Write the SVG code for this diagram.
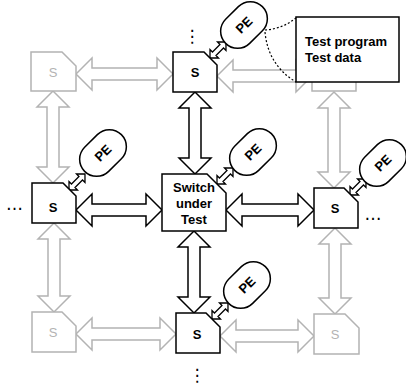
<svg xmlns="http://www.w3.org/2000/svg" width="406" height="388" viewBox="0 0 406 388">
<style>
text{font-family:"Liberation Sans",Arial,sans-serif;font-size:13px;font-weight:bold;fill:#000}
.g{fill:#fff;stroke:#b3b3b3;stroke-width:1.5}
.b{fill:#fff;stroke:#000;stroke-width:1.5}
.gt{fill:#b3b3b3;font-weight:normal}
.pe{fill:#fff;stroke:#000;stroke-width:1.5}
.sa{fill:#fff;stroke:#000;stroke-width:1.3}
.dot{fill:none;stroke:#000;stroke-width:1.2;stroke-dasharray:2,2}
.el{font-family:"DejaVu Sans",sans-serif;font-weight:normal;font-size:17px}
</style>
<defs>
<path id="sarrow" d="M0,0 L6,-6 L6,-2.5 L16.6,-2.5 L16.6,-6 L22.6,0 L16.6,6 L16.6,2.5 L6,2.5 L6,6 Z"/>
</defs>
<rect width="406" height="388" fill="#fff"/>
<g id="connectors">
<path class="g" d="M76,74 L92,58 L92,68 L157,68 L157,58 L173,74 L157,90 L157,80 L92,80 L92,90 Z"/>
<path class="g" d="M217,76 L233,60 L233,70 L296,70 L296,60 L312,76 L296,92 L296,82 L233,82 L233,92 Z"/>
<path class="b" d="M76,210 L92,194 L92,204 L146,204 L146,194 L162,210 L146,226 L146,216 L92,216 L92,226 Z"/>
<path class="b" d="M226,210 L242,194 L242,204 L298,204 L298,194 L314,210 L298,226 L298,216 L242,216 L242,226 Z"/>
<path class="g" d="M76,334 L92,318 L92,328 L160,328 L160,318 L176,334 L160,350 L160,340 L92,340 L92,350 Z"/>
<path class="g" d="M220,336 L236,320 L236,330 L298,330 L298,320 L314,336 L298,352 L298,342 L236,342 L236,352 Z"/>
<path class="g" d="M53,91 L69,107 L59,107 L59,167 L69,167 L53,183 L37,167 L47,167 L47,107 L37,107 Z"/>
<path class="b" d="M195,92 L211,108 L201,108 L201,158 L211,158 L195,174 L179,158 L189,158 L189,108 L179,108 Z"/>
<path class="g" d="M334,92 L350,108 L340,108 L340,172 L350,172 L334,188 L318,172 L328,172 L328,108 L318,108 Z"/>
<path class="g" d="M54,223 L70,239 L60,239 L60,296 L70,296 L54,312 L38,296 L48,296 L48,239 L38,239 Z"/>
<path class="b" d="M194,231 L210,247 L200,247 L200,297 L210,297 L194,313 L178,297 L188,297 L188,247 L178,247 Z"/>
<path class="g" d="M335,228 L351,244 L341,244 L341,298 L351,298 L335,314 L319,298 L329,298 L329,244 L319,244 Z"/>
<use href="#sarrow" class="sa" transform="translate(210,58) rotate(-45)"/>
<use href="#sarrow" class="sa" transform="translate(217,184) rotate(-45)"/>
<use href="#sarrow" class="sa" transform="translate(69,190) rotate(-45)"/>
<use href="#sarrow" class="sa" transform="translate(350,195) rotate(-45)"/>
<use href="#sarrow" class="sa" transform="translate(212,319) rotate(-45)"/>
<path class="dot" d="M265,30 Q282,29 296,18"/>
<path class="dot" d="M265,32 Q268,65 296,82"/>
</g>
<g id="s-topleft"><path class="g" d="M31,52 H62 L76,66 V91 H31 Z"/><text class="gt" x="53" y="77" text-anchor="middle">S</text></g>
<g id="s-top"><path class="b" d="M173,52 H204 L217,65 V92 H173 Z"/><text x="195" y="77" text-anchor="middle">S</text></g>
<g id="s-topright"><path class="g" d="M312,52 H342 L356,66 V91 H312 Z"/></g>
<g id="s-left"><path class="b" d="M32,183 H63 L76,196 V223 H32 Z"/><text x="53" y="212" text-anchor="middle">S</text></g>
<g id="sut"><path class="b" d="M162,174 H207 L226,193 V231 H162 Z"/>
<text x="194" y="192" text-anchor="middle">Switch</text><text x="194" y="208" text-anchor="middle">under</text><text x="194" y="224" text-anchor="middle">Test</text></g>
<g id="s-right"><path class="b" d="M314,188 H344 L358,202 V228 H314 Z"/><text x="335" y="213" text-anchor="middle">S</text></g>
<g id="s-bottomleft"><path class="g" d="M32,312 H62 L76,326 V352 H32 Z"/><text class="gt" x="53" y="337" text-anchor="middle">S</text></g>
<g id="s-bottom"><path class="b" d="M176,313 H206 L220,327 V353 H176 Z"/><text x="197" y="339" text-anchor="middle">S</text></g>
<g id="s-bottomright"><path class="g" d="M314,314 H345 L359,328 V354 H314 Z"/><text class="gt" x="335" y="339" text-anchor="middle">S</text></g>
<g id="testbox"><rect x="296" y="17" width="103" height="65" fill="#fff" stroke="#000" stroke-width="1.5"/>
<text x="305" y="46">Test program</text><text x="305" y="62">Test data</text></g>
<g id="pe-top" transform="translate(244,25) rotate(-45)"><rect class="pe" x="-26" y="-17" width="52" height="34" rx="17"/><text x="0" y="4.5" text-anchor="middle">PE</text></g>
<g id="pe-center" transform="translate(253,152) rotate(-45)"><rect class="pe" x="-26" y="-17" width="52" height="34" rx="17"/><text x="0" y="4.5" text-anchor="middle">PE</text></g>
<g id="pe-left" transform="translate(103,153) rotate(-45)"><rect class="pe" x="-26" y="-17" width="52" height="34" rx="17"/><text x="0" y="4.5" text-anchor="middle">PE</text></g>
<g id="pe-right" transform="translate(383,163) rotate(-45)"><rect class="pe" x="-26" y="-17" width="52" height="34" rx="17"/><text x="0" y="4.5" text-anchor="middle">PE</text></g>
<g id="pe-bottom" transform="translate(247,285) rotate(-45)"><rect class="pe" x="-26" y="-17" width="52" height="34" rx="17"/><text x="0" y="4.5" text-anchor="middle">PE</text></g>
<g id="ellipses">
<text class="el" x="192" y="42" text-anchor="middle">⋮</text>
<text class="el" x="197" y="381" text-anchor="middle">⋮</text>
<text class="el" x="14.5" y="210" text-anchor="middle">…</text>
<text class="el" x="373" y="220" text-anchor="middle">…</text>
</g>
</svg>
